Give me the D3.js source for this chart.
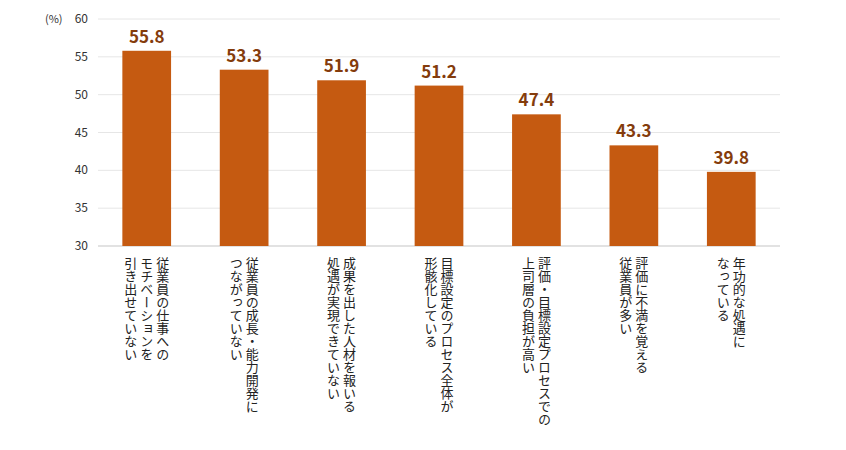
<!DOCTYPE html><html><head><meta charset="utf-8"><script src="https://cdn.jsdelivr.net/npm/d3@7"></script>
<style>body{margin:0;background:#fff}text{font-family:"Noto Sans CJK JP",sans-serif}</style></head><body><svg id="c" width="846" height="450"></svg>
<script>
const categories=[["従業員の仕事への","モチベーションを","引き出せていない"],["従業員の成長・能力開発に","つながっていない"],["成果を出した人材を報いる","処遇が実現できていない"],["目標設定のプロセス全体が","形骸化している"],["評価・目標設定プロセスでの","上司層の負担が高い"],["評価に不満を覚える","従業員が多い"],["年功的な処遇に","なっている"]];
const values=[55.8,53.3,51.9,51.2,47.4,43.3,39.8];
const ticks=[30,35,40,45,50,55,60];
const svg=d3.select("#c");
const x=d3.scaleBand().domain(d3.range(values.length)).range([98,780]).paddingInner(0.5).paddingOuter(0.25);
const y=d3.scaleLinear().domain([30,60]).range([246,19]);
svg.append("g").selectAll("line").data(ticks).join("line").attr("x1",98).attr("x2",780).attr("y1",d=>y(d)).attr("y2",d=>y(d)).attr("stroke",d=>d===30?"#d9d9d9":"#e6e6e6").attr("stroke-width",d=>d===30?1.5:1);
svg.append("g").selectAll("text").data(ticks).join("text").attr("x",88).attr("y",d=>y(d)+4).attr("text-anchor","end").attr("font-size",12).attr("fill","#333").text(d=>d);
svg.append("text").attr("x",45).attr("y",23).attr("font-size",11).attr("fill","#333").text("(%)");
svg.append("g").selectAll("rect").data(values).join("rect").attr("x",(d,i)=>x(i)).attr("width",x.bandwidth()).attr("y",d=>y(d)).attr("height",d=>y(30)-y(d)).attr("fill","#C55A11");
svg.append("g").selectAll("text").data(values).join("text").attr("x",(d,i)=>x(i)+x.bandwidth()/2).attr("y",d=>y(d)-8).attr("text-anchor","middle").attr("font-size",17).attr("font-weight","bold").attr("fill","#843C0C").text(d=>d.toFixed(1));
categories.forEach((lines,i)=>{const cx=x(i)+x.bandwidth()/2;const n=lines.length;
lines.forEach((l,j)=>{const lx=cx+((n-1)/2-j)*16;
svg.append("text").attr("x",lx).attr("y",257).attr("writing-mode","vertical-rl").attr("font-size",13).attr("fill","#222").text(l);});});
</script></body></html>
